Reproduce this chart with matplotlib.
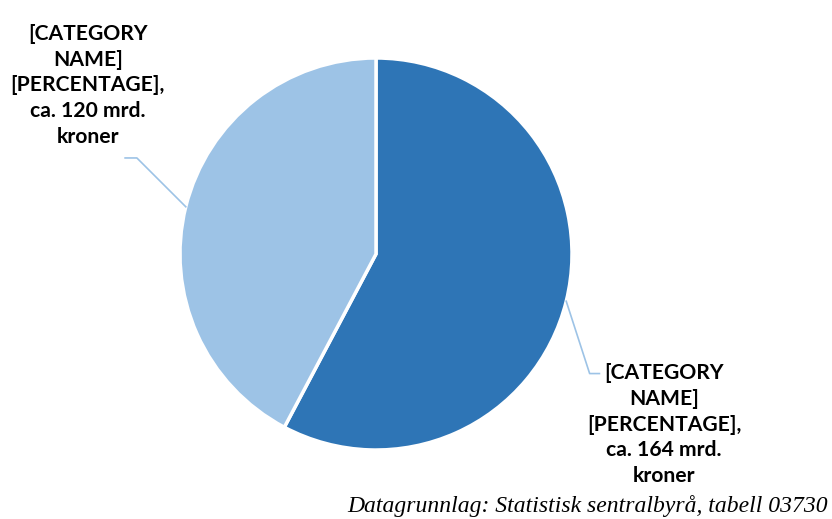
import numpy as np
import matplotlib.pyplot as plt

# verdier (mrd. kroner), tegnes med klokka fra toppen
values = [164, 120]
colors = ['#2E75B6', '#9DC3E6']
labels = ['[CATEGORY\nNAME]\n[PERCENTAGE],\nca. 164 mrd.\nkroner',
          '[CATEGORY\nNAME]\n[PERCENTAGE],\nca. 120 mrd.\nkroner']
source = 'Datagrunnlag: Statistisk sentralbyrå, tabell 03730'

W, H = 832, 519
fig = plt.figure(figsize=(W / 100, H / 100), dpi=100)

# pie centre (376, 254) px, radius 196 px
cx, cy, r = 376, 254, 196
ax = fig.add_axes([(cx - r) / W, (H - cy - r) / H, 2 * r / W, 2 * r / H])

wedges, _ = ax.pie(values, colors=colors, startangle=90, counterclock=False,
                   radius=1.0, wedgeprops=dict(edgecolor='white', linewidth=2.5))
ax.set_xlim(-1, 1)
ax.set_ylim(-1, 1)
ax.axis('off')

# label positions (data units) and leader elbows
text_pos = [(1.47, -0.87), (-1.47, 0.86)]
elbows = [((1.09, -0.61), (1.14, -0.61)), ((-1.22, 0.49), (-1.28, 0.49))]

for w, lab, tp, (elb, end) in zip(wedges, labels, text_pos, elbows):
    mid = np.deg2rad((w.theta1 + w.theta2) / 2)
    x0, y0 = np.cos(mid), np.sin(mid)
    ax.plot([x0, elb[0], end[0]], [y0, elb[1], end[1]], color='#9DC3E6',
            lw=1.2, clip_on=False)
    ax.text(tp[0], tp[1], lab, ha='center', va='center', fontsize=15.2,
            fontweight='bold', family='Lato', linespacing=1.36,
            color='#000000', clip_on=False)

fig.text(828 / W, 1 - 512 / H, source, ha='right', va='baseline',
         fontsize=17, style='italic', family='Liberation Serif')

fig.savefig('out.png', dpi=100)
